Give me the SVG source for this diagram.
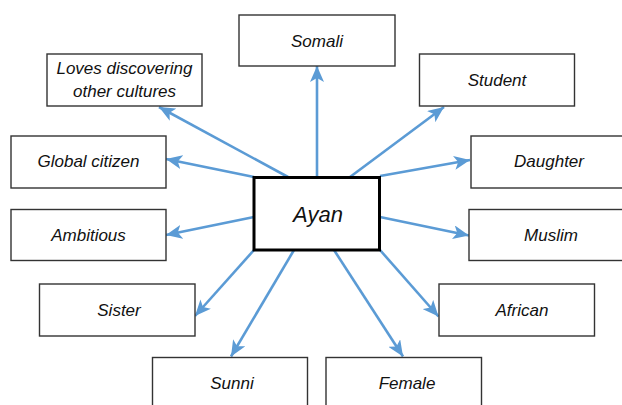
<svg xmlns="http://www.w3.org/2000/svg" width="622" height="405" viewBox="0 0 622 405">
<style>
.box{fill:#fff;stroke:#333;stroke-width:1.4}
.main{fill:#fff;stroke:#000;stroke-width:3}
.t{font-family:"Liberation Sans",Arial,sans-serif;font-style:italic;font-size:17px;fill:#111;text-anchor:middle}
.tm{font-family:"Liberation Sans",Arial,sans-serif;font-style:italic;font-size:22px;fill:#111;text-anchor:middle}
.c{stroke:#5B9BD5;stroke-width:2.6;fill:none;marker-end:url(#ah)}
</style>
<defs>
<marker id="ah" markerUnits="userSpaceOnUse" markerWidth="16" markerHeight="14" viewBox="0 0 16 14" refX="16" refY="7" orient="auto">
<path d="M0,0 L16,7 L0,14 L4,7 Z" fill="#5B9BD5"/>
</marker>
</defs>
<rect width="622" height="405" fill="#fff"/>
<g id="connectors">
<line class="c" x1="288" y1="177" x2="159" y2="107"/>
<line class="c" x1="254" y1="177" x2="166" y2="159"/>
<line class="c" x1="317" y1="177" x2="317" y2="66"/>
<line class="c" x1="350" y1="177" x2="444" y2="107"/>
<line class="c" x1="380" y1="176" x2="470" y2="160"/>
<line class="c" x1="254" y1="217" x2="166" y2="235"/>
<line class="c" x1="380" y1="217" x2="469" y2="235.5"/>
<line class="c" x1="254" y1="250" x2="195" y2="316"/>
<line class="c" x1="380" y1="250" x2="438.5" y2="316.5"/>
<line class="c" x1="294" y1="250" x2="231" y2="356.5"/>
<line class="c" x1="334" y1="250" x2="403" y2="356.5"/>
</g>
<g id="ayan"><rect class="main" x="254" y="177.5" width="125.5" height="72.5"/><text class="tm" x="318" y="222">Ayan</text></g>
<g id="somali"><rect class="box" x="239" y="15" width="156" height="51"/><text class="t" x="317" y="46.5">Somali</text></g>
<g id="loves"><rect class="box" x="47" y="54" width="155" height="52"/><text class="t" x="124.5" y="74">Loves discovering</text><text class="t" x="124.5" y="97">other cultures</text></g>
<g id="student"><rect class="box" x="419.5" y="54" width="155" height="52"/><text class="t" x="497" y="86">Student</text></g>
<g id="global"><rect class="box" x="11" y="136" width="155" height="52"/><text class="t" x="88.5" y="167">Global citizen</text></g>
<g id="daughter"><rect class="box" x="471" y="136" width="156" height="52"/><text class="t" x="549" y="167">Daughter</text></g>
<g id="ambitious"><rect class="box" x="11" y="209.5" width="155" height="51"/><text class="t" x="88.5" y="241">Ambitious</text></g>
<g id="muslim"><rect class="box" x="469" y="209.5" width="156" height="51"/><text class="t" x="551" y="241">Muslim</text></g>
<g id="sister"><rect class="box" x="39.5" y="284" width="155.5" height="52"/><text class="t" x="119" y="316">Sister</text></g>
<g id="african"><rect class="box" x="439" y="284" width="155.5" height="52"/><text class="t" x="522" y="316">African</text></g>
<g id="sunni"><rect class="box" x="152.5" y="357.5" width="155" height="52"/><text class="t" x="232" y="389">Sunni</text></g>
<g id="female"><rect class="box" x="326" y="357.5" width="155.5" height="52"/><text class="t" x="407" y="389">Female</text></g>
</svg>
